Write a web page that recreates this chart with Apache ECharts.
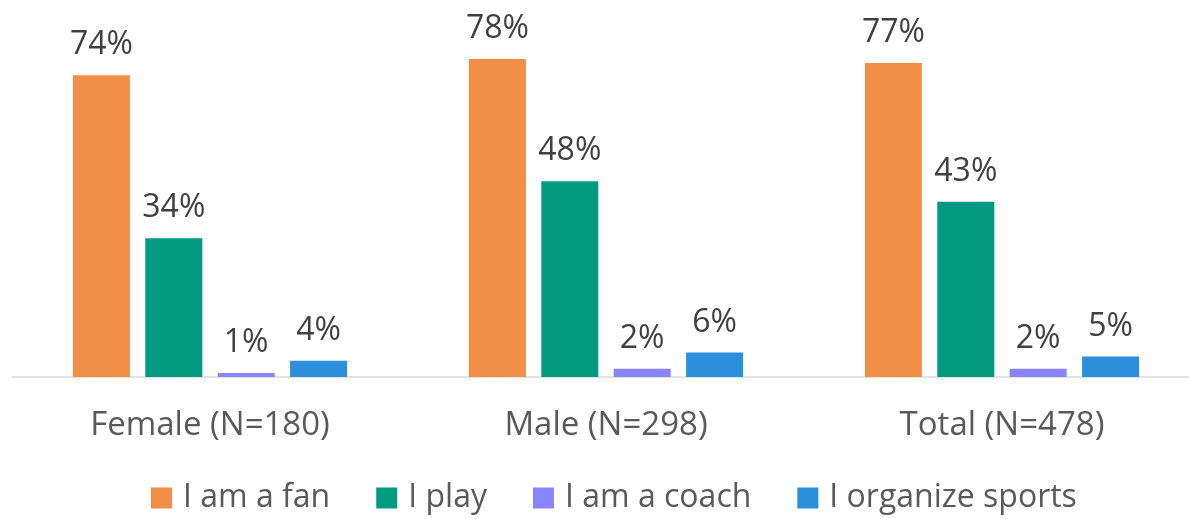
<!DOCTYPE html>
<html><head><meta charset="utf-8">
<script src="https://cdn.jsdelivr.net/npm/echarts@6/dist/echarts.min.js"></script>
<style>html,body{margin:0;padding:0;background:#fff;overflow:hidden;width:1189px;height:519px}#c{width:1200px;height:519px}</style>
</head><body><div id="c"></div>
<script>
const categories = ['Female (N=180)', 'Male (N=298)', 'Total (N=478)'];
const seriesNames = ['I am a fan', 'I play', 'I am a coach', 'I organize sports'];
const fan = [74, 78, 77];
const play = [34, 48, 43];
const coach = [1, 2, 2];
const organize = [4, 6, 5];
const colors = ['#F08F45', '#029A81', '#8A85FF', '#2B8FDC'];
const values = [fan, play, coach, organize];
const FONT = '"Open Sans", "Noto Sans", sans-serif';

const chart = echarts.init(document.getElementById('c'));
chart.setOption({
  animation: false,
  color: colors,
  grid: { left: 12, top: 10, right: 0, height: 367, containLabel: false },
  xAxis: {
    type: 'category', data: categories,
    axisLine: { lineStyle: { color: '#d9d9d9', width: 1.5 } },
    axisTick: { show: false },
    axisLabel: { color: '#595959', fontSize: 33, fontFamily: FONT, margin: 32 }
  },
  yAxis: { type: 'value', min: 0, max: 90, show: false, splitLine: { show: false } },
  legend: {
    top: 482, left: 151, itemWidth: 21, itemHeight: 21, itemGap: 46,
    icon: 'rect', padding: 0,
    textStyle: { color: '#595959', fontSize: 32, fontFamily: FONT, padding: [0,0,0,6] },
    data: seriesNames
  },
  series: seriesNames.map((n, i) => ({
    name: n, type: 'bar', data: values[i], barWidth: 57, barGap: '27%',
    itemStyle: { color: colors[i] },
    label: { show: true, position: 'top', distance: 14, formatter: '{c}%',
      color: '#404040', fontSize: 32, fontFamily: FONT }
  }))
});
</script></body></html>
